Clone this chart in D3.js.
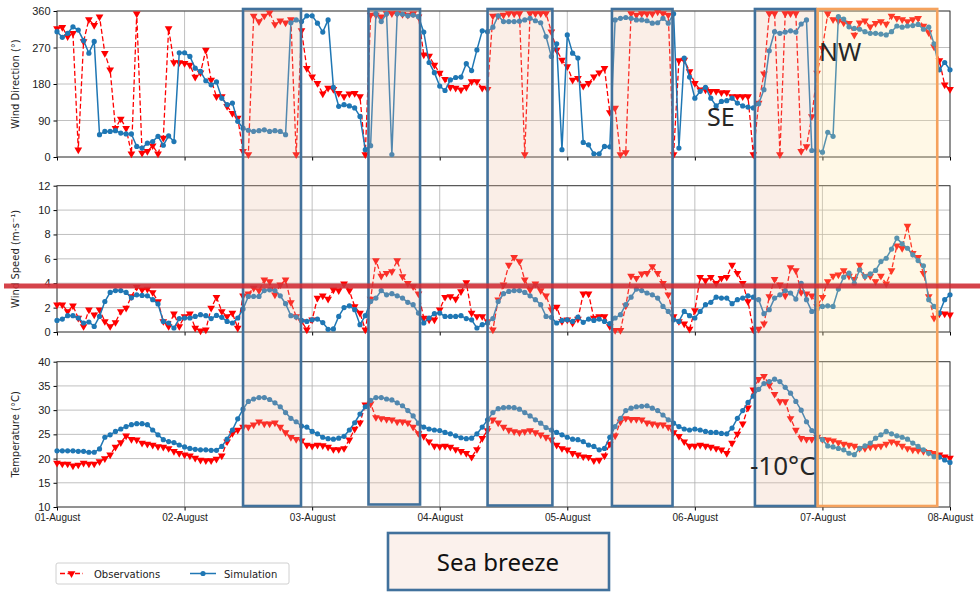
<!DOCTYPE html>
<html>
<head>
<meta charset="utf-8">
<script src="https://cdn.jsdelivr.net/npm/d3@7"></script>
<style>
  body { margin: 0; background: #fff; }
  svg { font-family: "DejaVu Sans", sans-serif; }
</style>
</head>
<body>
<svg width="980" height="592"></svg>
<script>
// hourly values, 01-Aug 00:00 .. 08-Aug 00:00
var dirObs = [317,320,297,305,18,285,339,325,346,256,215,71,94,71,8,353,10,14,28,8,47,317,233,233,
  231,227,197,208,264,190,149,149,125,108,96,14,6,348,334,348,356,327,336,331,339,6,312,219,
  198,182,156,170,167,157,149,156,157,149,6,350,350,346,354,354,354,352,350,353,346,252,249,227,
  207,192,172,170,166,172,186,186,170,167,348,348,350,354,353,354,6,354,354,354,354,309,264,239,
  223,190,194,175,182,198,208,219,110,121,6,11,354,350,354,353,353,358,354,350,6,238,239,211,
  182,166,166,162,162,159,159,149,149,149,149,6,133,205,354,354,6,354,354,354,14,26,100,207,
  268,353,339,336,331,330,301,331,336,321,330,334,328,348,342,339,334,339,342,323,307,272,238,178,167];
var dirSim = [309,295,305,321,313,287,256,285,55,63,63,65,59,57,57,26,22,34,38,51,29,52,38,257,
  257,248,219,211,188,178,185,145,129,133,88,71,66,63,65,67,63,65,63,55,331,338,334,348,
  348,330,308,338,172,125,129,126,121,100,18,28,354,334,353,6,353,352,348,350,346,308,233,208,
  175,164,190,196,197,230,213,264,311,309,320,348,334,334,334,335,338,342,336,331,297,248,279,18,
  301,256,244,36,30,8,8,26,25,338,342,344,342,338,338,336,330,331,342,330,353,22,244,197,
  145,162,172,145,126,137,139,145,133,126,123,121,131,166,262,309,305,308,311,308,328,338,16,16,
  12,61,51,346,340,321,317,315,309,305,305,303,301,309,323,320,323,324,327,315,320,279,215,233,215];
var spdObs = [2.24,2.24,1.69,2.15,1.15,0.46,1.83,1.42,1.83,0.87,0.46,0.79,1.69,1.96,2.92,3.68,3.46,3.52,3.25,2.5,0.87,0.46,1.5,0.46,
  1.28,1.5,0.33,0.11,0.19,1.96,2.86,1.69,1.28,1.55,0.33,2.97,3.14,3.6,3.4,4.28,4.15,3.05,3.87,4.28,2.43,1.28,0.87,0.19,
  1.0,2.78,2.97,2.7,3.46,3.4,3.95,3.4,2.1,1.55,0.19,2.7,5.86,4.6,4.83,4.96,5.86,4.55,4.0,3.74,3.14,1.15,1.0,1.0,
  1.83,2.86,2.92,2.7,3.33,4.06,1.55,1.28,1.28,0.87,0.19,2.65,3.87,5.5,6.13,5.78,4.28,3.46,3.95,3.4,2.97,1.83,2.05,0.87,
  1.0,0.74,1.06,3.14,3.14,1.15,1.28,1.28,0.46,0.14,0.14,2.15,4.6,4.42,4.77,4.83,5.37,4.83,4.0,3.05,1.28,0.87,0.68,0.25,
  1.77,4.5,4.23,4.5,4.0,4.42,4.5,5.5,4.83,4.0,2.5,0.19,0.25,0.68,2.92,4.33,3.87,2.97,5.3,5.05,3.25,3.14,2.97,2.1,
  2.86,4.15,4.6,4.7,5.05,4.6,4.33,5.5,4.55,4.6,4.15,4.6,3.95,5.05,7.07,6.87,8.7,6.46,6.14,4.83,2.92,1.15,1.5,1.5,1.42];
var spdSim = [0.95,1.06,1.34,1.34,1.15,0.74,0.82,0.46,1.28,2.5,3.25,3.4,3.4,3.25,2.8,3.05,3.0,2.97,2.65,2.3,0.87,0.74,0.33,1.1,
  1.15,1.15,1.28,1.42,1.34,1.1,1.36,1.2,0.87,0.74,1.15,1.88,2.92,2.92,2.92,3.4,3.46,3.4,2.97,2.32,1.34,1.23,0.95,0.87,
  1.0,1.06,0.77,0.22,0.25,1.28,2.0,2.15,1.83,0.6,1.34,2.5,2.78,3.4,3.05,3.14,2.97,2.78,2.43,2.24,1.55,0.74,1.15,1.5,
  1.55,1.28,1.28,1.28,1.34,1.1,1.0,0.33,0.6,0.74,1.1,2.5,3.14,3.33,3.4,3.4,3.25,2.97,2.65,2.24,1.28,1.2,0.74,0.95,
  1.0,0.87,1.23,0.79,1.06,0.95,1.06,0.87,0.68,1.15,1.42,2.24,2.86,3.52,3.4,3.2,3.05,2.78,2.1,1.69,1.0,0.87,1.69,1.34,
  1.15,1.69,2.24,2.43,2.86,2.78,2.78,2.32,2.65,2.78,2.97,2.86,2.65,1.5,1.83,2.78,3.05,3.4,3.2,2.7,4.0,2.65,1.69,1.88,
  2.1,2.15,2.1,3.52,4.5,4.83,4.0,5.1,4.55,4.77,5.05,5.78,6.05,6.8,7.7,7.23,6.87,6.33,5.86,5.43,2.65,2.1,1.55,2.65,3.05];
var tmpObs = [19.1,18.9,18.9,18.5,18.7,19.1,18.9,18.9,19.4,20.0,20.8,22.4,23.3,24.7,24.0,23.9,23.2,23.0,22.8,22.5,22.4,22.1,21.5,21.1,
  20.8,20.6,20.1,19.7,19.6,19.6,19.9,20.6,23.5,25.2,25.9,26.5,26.5,27.0,27.6,27.2,27.2,27.4,26.5,25.4,24.4,24.0,23.7,22.8,
  22.6,22.8,22.7,22.4,21.9,21.9,22.1,23.9,26.1,27.4,31.1,31.3,28.5,28.3,28.1,28.0,27.6,27.6,27.4,26.5,25.2,24.6,23.5,22.6,
  22.5,22.6,22.4,21.9,21.5,21.1,20.3,21.9,24.2,25.8,28.0,27.4,26.5,25.9,25.6,25.4,25.6,25.8,25.4,24.9,24.4,23.9,22.8,22.1,
  21.8,21.1,20.8,20.4,20.3,19.6,19.7,20.6,23.0,24.7,27.6,28.3,28.1,28.1,28.0,27.4,27.2,27.0,27.0,26.5,25.4,24.6,23.5,22.6,
  22.6,22.8,22.6,22.4,22.1,21.8,21.1,23.2,25.1,27.2,30.5,34.2,36.4,37.0,35.2,33.3,31.8,31.8,28.3,25.9,24.2,24.0,24.0,24.4,
  24.0,23.9,23.7,23.3,23.0,22.8,22.6,22.1,22.1,22.4,22.5,22.6,23.0,23.5,23.2,22.6,22.1,21.8,21.7,21.5,21.3,21.1,20.8,20.4,20.1];
var tmpSim = [21.6,21.6,21.6,21.6,21.5,21.5,21.3,21.3,22.0,24.4,24.9,25.6,26.1,26.6,27.0,27.2,27.2,27.0,25.9,24.9,23.9,23.5,23.3,22.8,
  22.4,22.1,21.9,21.8,21.8,21.7,21.7,22.5,24.0,25.9,28.2,30.2,31.8,32.3,32.6,32.6,32.2,31.5,30.7,29.5,28.3,27.6,26.7,26.5,
  25.6,25.1,24.4,24.1,24.0,24.2,24.6,25.9,27.4,29.2,30.7,32.0,32.6,32.6,32.3,32.1,31.5,30.9,29.9,28.8,27.3,26.5,26.1,25.9,
  25.8,25.4,25.1,24.7,24.3,24.1,24.2,25.1,26.5,28.0,29.5,30.3,30.5,30.6,30.5,30.2,29.5,28.8,28.0,27.3,26.4,25.9,25.4,24.9,
  24.4,24.0,23.9,23.5,22.8,22.5,21.8,22.1,24.4,26.6,28.3,29.9,30.4,30.7,30.8,30.9,30.4,29.9,29.0,28.0,27.3,26.6,26.1,25.9,
  26.1,25.9,25.6,25.4,25.4,25.2,25.1,26.3,28.3,29.9,31.6,32.9,34.3,35.5,35.9,36.4,35.9,34.7,33.5,31.8,30.0,27.6,25.8,24.6,
  23.9,22.6,22.4,22.1,21.8,21.1,20.8,22.1,22.6,23.2,24.2,24.9,25.6,25.1,24.7,24.4,24.0,23.2,22.5,21.8,21.1,20.4,20.3,19.7,19.2];

var dayTicks = ["01-August","02-August","03-August","04-August","05-August","06-August","07-August","08-August"];
// sea-breeze periods and the NW event, in hours since 01-Aug 00:00
var breezeHours = [[35.0, 45.9], [58.6, 68.3], [81.0, 93.2], [104.4, 115.8], [131.3, 142.7]];
var nwHours = [143.1, 165.6];
var windThreshold = 3.77;

var svg = d3.select("svg");
var start = new Date(2018, 7, 1);
var times = dirObs.map(function(d, i) { return d3.timeHour.offset(start, i); });
var hour = function(h) { return d3.timeMinute.offset(start, Math.round(h * 60)); };

var x = d3.scaleTime()
    .domain([start, d3.timeDay.offset(start, 7)])
    .range([57, 950]);

var panels = [
  {obs: dirObs, sim: dirSim, top: 11, bottom: 157, domain: [0, 360], ticks: [0, 90, 180, 270, 360], label: "Wind Direction (°)"},
  {obs: spdObs, sim: spdSim, top: 185.7, bottom: 332, domain: [0, 12], ticks: [0, 2, 4, 6, 8, 10, 12], label: "Wind Speed (m·s⁻¹)"},
  {obs: tmpObs, sim: tmpSim, top: 361.7, bottom: 507, domain: [10, 40], ticks: [10, 15, 20, 25, 30, 35, 40], label: "Temperature (°C)"}
];

var simColor = "#1f77b4", obsColor = "#ff0000";
var tri = d3.symbol().type(d3.symbolTriangle).size(26);
var dayDates = dayTicks.map(function(d, i) { return d3.timeDay.offset(start, i); });

panels.forEach(function(p, pi) {
  var y = d3.scaleLinear().domain(p.domain).range([p.bottom, p.top]);
  p.y = y;
  var g = svg.append("g");

  // grid
  g.append("g").selectAll("line").data(p.ticks).join("line")
      .attr("x1", 57).attr("x2", 950)
      .attr("y1", function(d) { return y(d); }).attr("y2", function(d) { return y(d); })
      .attr("stroke", "#b0b0b0").attr("stroke-width", 0.8);
  g.append("g").selectAll("line").data(dayDates).join("line")
      .attr("x1", function(d) { return x(d); }).attr("x2", function(d) { return x(d); })
      .attr("y1", p.top).attr("y2", p.bottom)
      .attr("stroke", "#b0b0b0").attr("stroke-width", 0.8);

  // axes
  var ya = g.append("g")
      .attr("transform", "translate(57,0)")
      .call(d3.axisLeft(y).tickValues(p.ticks).tickSize(3.5).tickPadding(3));
  ya.select(".domain").remove();
  ya.selectAll("text").attr("font-size", 11).attr("fill", "#222");
  var xa = g.append("g")
      .attr("transform", "translate(0," + p.bottom + ")")
      .call(d3.axisBottom(x).tickValues(dayDates).tickSize(3.5)
        .tickFormat(function(d, i) { return pi === 2 ? dayTicks[i] : ""; }));
  xa.select(".domain").remove();
  xa.selectAll("text").attr("font-size", 10).attr("fill", "#222");

  g.append("rect")
      .attr("x", 57).attr("y", p.top)
      .attr("width", 893).attr("height", p.bottom - p.top)
      .attr("fill", "none").attr("stroke", "#333").attr("stroke-width", 0.9);

  g.append("text")
      .attr("transform", "translate(19," + ((p.top + p.bottom) / 2) + ") rotate(-90)")
      .attr("text-anchor", "middle")
      .attr("font-size", 10)
      .attr("fill", "#222")
      .text(p.label);

  var line = d3.line()
      .x(function(d, i) { return x(times[i]); })
      .y(function(d) { return y(d); });

  g.append("path").datum(p.obs)
      .attr("d", line).attr("fill", "none")
      .attr("stroke", obsColor).attr("stroke-width", 1.3)
      .attr("stroke-dasharray", "5,2.5");
  g.append("g").selectAll("path").data(p.obs).join("path")
      .attr("d", tri)
      .attr("transform", function(d, i) { return "translate(" + x(times[i]) + "," + y(d) + ") rotate(180)"; })
      .attr("fill", obsColor);

  g.append("path").datum(p.sim)
      .attr("d", line).attr("fill", "none")
      .attr("stroke", simColor).attr("stroke-width", 1.5);
  g.append("g").selectAll("circle").data(p.sim).join("circle")
      .attr("cx", function(d, i) { return x(times[i]); })
      .attr("cy", function(d) { return y(d); })
      .attr("r", 2.6)
      .attr("fill", simColor);
});

// highlight boxes
var boxBottoms = [506, 504.5, 505.5, 506, 506];
svg.append("g").selectAll("rect").data(breezeHours).join("rect")
    .attr("x", function(d) { return x(hour(d[0])); })
    .attr("y", 9)
    .attr("width", function(d) { return x(hour(d[1])) - x(hour(d[0])); })
    .attr("height", function(d, i) { return boxBottoms[i] - 9; })
    .attr("fill", "rgba(237,189,159,0.25)")
    .attr("stroke", "#41719c").attr("stroke-width", 2.6);
svg.append("rect")
    .attr("x", x(hour(nwHours[0])))
    .attr("y", 9)
    .attr("width", x(hour(nwHours[1])) - x(hour(nwHours[0])))
    .attr("height", 497)
    .attr("fill", "rgba(255,227,155,0.25)")
    .attr("stroke", "#f5a25d").attr("stroke-width", 2.6);

// wind speed threshold
svg.append("line")
    .attr("x1", 4).attr("x2", 980)
    .attr("y1", panels[1].y(windThreshold)).attr("y2", panels[1].y(windThreshold))
    .attr("stroke", "#d02f36").attr("stroke-opacity", 0.9).attr("stroke-width", 5);

// sea breeze key box
svg.append("rect")
    .attr("x", 388).attr("y", 533).attr("width", 221).attr("height", 57)
    .attr("fill", "#fbf1ec").attr("stroke", "#41719c").attr("stroke-width", 2.6);

// annotations
var ann = svg.append("g").attr("font-family", "'Noto Sans', sans-serif").attr("fill", "#262626");
ann.append("text").attr("x", 819).attr("y", 61).attr("font-size", 25).text("NW");
ann.append("text").attr("x", 707).attr("y", 126).attr("font-size", 25).text("SE");
ann.append("text").attr("x", 750).attr("y", 475).attr("font-size", 26).text("-10°C");
ann.append("text").attr("x", 498).attr("y", 571).attr("text-anchor", "middle")
    .attr("font-size", 24).attr("fill", "#111").text("Sea breeze");

// legend
var lg = svg.append("g").attr("transform", "translate(56,563)");
lg.append("rect").attr("width", 233).attr("height", 21).attr("rx", 2)
    .attr("fill", "#fff").attr("stroke", "#d0d0d0");
lg.append("line").attr("x1", 4).attr("x2", 27).attr("y1", 10.5).attr("y2", 10.5)
    .attr("stroke", obsColor).attr("stroke-width", 1.3).attr("stroke-dasharray", "5,2.5");
lg.append("path").attr("d", tri).attr("transform", "translate(15.5,10.5) rotate(180)").attr("fill", obsColor);
lg.append("text").attr("x", 38).attr("y", 14.5).attr("font-size", 10).attr("fill", "#222").text("Observations");
lg.append("line").attr("x1", 134).attr("x2", 160).attr("y1", 10.5).attr("y2", 10.5)
    .attr("stroke", simColor).attr("stroke-width", 1.5);
lg.append("circle").attr("cx", 147).attr("cy", 10.5).attr("r", 2.6).attr("fill", simColor);
lg.append("text").attr("x", 168).attr("y", 14.5).attr("font-size", 10).attr("fill", "#222").text("Simulation");
</script>
</body>
</html>
